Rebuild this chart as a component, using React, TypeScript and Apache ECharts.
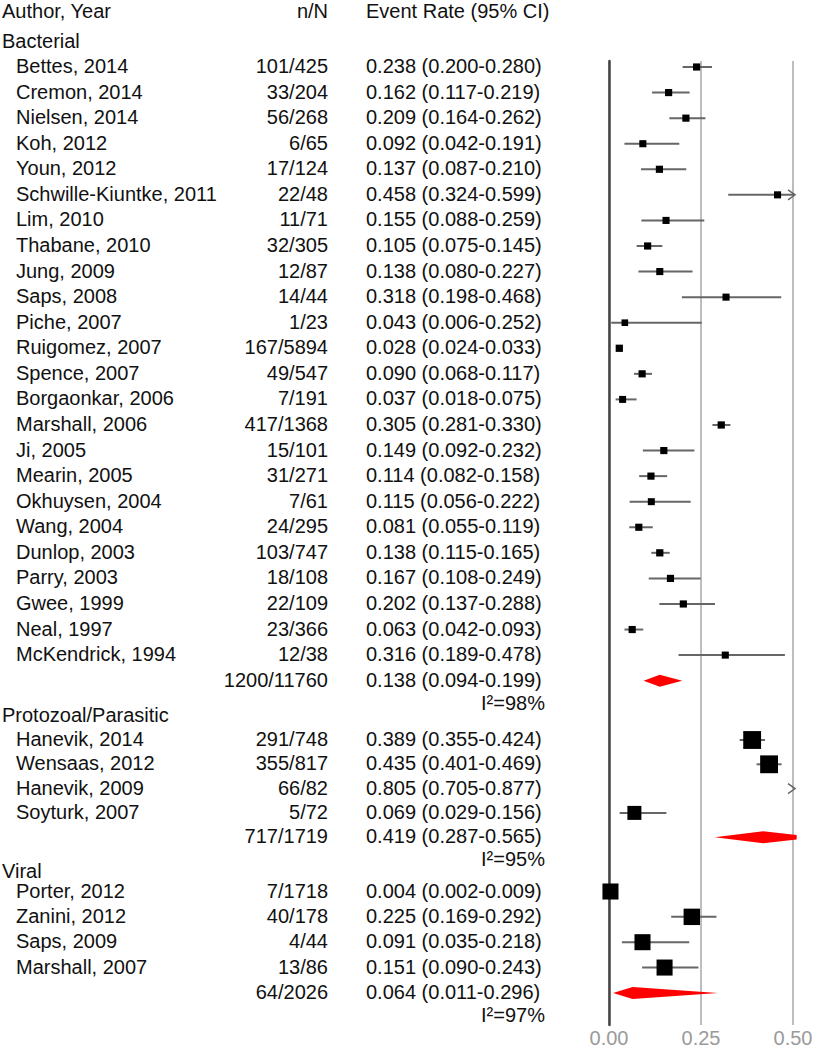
import React, { useEffect, useRef } from "react";
import * as echarts from "echarts";

// ---------- DATA ----------
const groupNames = ["Bacterial", "Protozoal/Parasitic", "Viral"];

const bacterialStudies = [
  "Bettes, 2014", "Cremon, 2014", "Nielsen, 2014", "Koh, 2012", "Youn, 2012",
  "Schwille-Kiuntke, 2011", "Lim, 2010", "Thabane, 2010", "Jung, 2009", "Saps, 2008",
  "Piche, 2007", "Ruigomez, 2007", "Spence, 2007", "Borgaonkar, 2006", "Marshall, 2006",
  "Ji, 2005", "Mearin, 2005", "Okhuysen, 2004", "Wang, 2004", "Dunlop, 2003",
  "Parry, 2003", "Gwee, 1999", "Neal, 1997", "McKendrick, 1994",
];
const bacterialCounts = [
  "101/425", "33/204", "56/268", "6/65", "17/124", "22/48", "11/71", "32/305", "12/87", "14/44",
  "1/23", "167/5894", "49/547", "7/191", "417/1368", "15/101", "31/271", "7/61", "24/295", "103/747",
  "18/108", "22/109", "23/366", "12/38",
];
const bacterialRate = [
  0.238, 0.162, 0.209, 0.092, 0.137, 0.458, 0.155, 0.105, 0.138, 0.318,
  0.043, 0.028, 0.09, 0.037, 0.305, 0.149, 0.114, 0.115, 0.081, 0.138,
  0.167, 0.202, 0.063, 0.316,
];
const bacterialLower = [
  0.2, 0.117, 0.164, 0.042, 0.087, 0.324, 0.088, 0.075, 0.08, 0.198,
  0.006, 0.024, 0.068, 0.018, 0.281, 0.092, 0.082, 0.056, 0.055, 0.115,
  0.108, 0.137, 0.042, 0.189,
];
const bacterialUpper = [
  0.28, 0.219, 0.262, 0.191, 0.21, 0.599, 0.259, 0.145, 0.227, 0.468,
  0.252, 0.033, 0.117, 0.075, 0.33, 0.232, 0.158, 0.222, 0.119, 0.165,
  0.249, 0.288, 0.093, 0.478,
];
const bacterialWeight = [
  4.2, 4.2, 4.2, 4.1, 4.2, 4.1, 4.1, 4.2, 4.1, 4.1,
  3.6, 4.3, 4.2, 4.0, 4.3, 4.2, 4.2, 4.0, 4.2, 4.3,
  4.2, 4.2, 4.2, 4.1,
];

const protozoalStudies = ["Hanevik, 2014", "Wensaas, 2012", "Hanevik, 2009", "Soyturk, 2007"];
const protozoalCounts = ["291/748", "355/817", "66/82", "5/72"];
const protozoalRate = [0.389, 0.435, 0.805, 0.069];
const protozoalLower = [0.355, 0.401, 0.705, 0.029];
const protozoalUpper = [0.424, 0.469, 0.877, 0.156];
const protozoalWeight = [26, 26, 24, 16];

const viralStudies = ["Porter, 2012", "Zanini, 2012", "Saps, 2009", "Marshall, 2007"];
const viralCounts = ["7/1718", "40/178", "4/44", "13/86"];
const viralRate = [0.004, 0.225, 0.091, 0.151];
const viralLower = [0.002, 0.169, 0.035, 0.09];
const viralUpper = [0.009, 0.292, 0.218, 0.243];
const viralWeight = [21, 22, 21, 21];

const summaryCounts = ["1200/11760", "717/1719", "64/2026"];
const summaryRate = [0.138, 0.419, 0.064];
const summaryLower = [0.094, 0.287, 0.011];
const summaryUpper = [0.199, 0.565, 0.296];
const summaryI2 = [98, 95, 97];

const xTicks = [0, 0.25, 0.5];

// ---------- LAYOUT (pixel rows) ----------
const HEADER_Y = 11.5;
const GROUP_LAYOUT = [
  { headerY: 42, firstY: 67, step: 25.57 },
  { headerY: 716, firstY: 740, step: 24.3 },
  { headerY: 872, firstY: 891.5, step: 25.35 },
];
const I2_GAP = 23;
const X_NAME_HDR = 2;
const X_NAME = 16;
const X_COUNT = 328;
const X_RATE = 366;
const X_I2 = 545;
const ARROW_TIP = 0.5055;
const DIAMOND_CLIP = 0.51;
const FONT = "'Liberation Sans', Arial, Helvetica, sans-serif";

type Row = {
  kind: "top" | "group" | "study" | "summary" | "i2";
  y: number;
  label?: string;
  count?: string;
  rate?: number;
  lo?: number;
  hi?: number;
  w?: number;
  i2?: number;
};

function buildRows(): Row[] {
  const groups = [
    [bacterialStudies, bacterialCounts, bacterialRate, bacterialLower, bacterialUpper, bacterialWeight],
    [protozoalStudies, protozoalCounts, protozoalRate, protozoalLower, protozoalUpper, protozoalWeight],
    [viralStudies, viralCounts, viralRate, viralLower, viralUpper, viralWeight],
  ] as any[];
  const rows: Row[] = [{ kind: "top", y: HEADER_Y }];
  groups.forEach((g, gi) => {
    const L = GROUP_LAYOUT[gi];
    rows.push({ kind: "group", y: L.headerY, label: groupNames[gi] });
    const [names, counts, rates, los, his, ws] = g;
    names.forEach((n: string, i: number) => {
      rows.push({
        kind: "study", y: L.firstY + i * L.step, label: n, count: counts[i],
        rate: rates[i], lo: los[i], hi: his[i], w: ws[i],
      });
    });
    const sy = L.firstY + names.length * L.step;
    rows.push({
      kind: "summary", y: sy, count: summaryCounts[gi],
      rate: summaryRate[gi], lo: summaryLower[gi], hi: summaryUpper[gi],
    });
    rows.push({ kind: "i2", y: sy + I2_GAP, i2: summaryI2[gi] });
  });
  return rows;
}

const fmt = (v: number) => v.toFixed(3);

export default function App() {
  const ref = useRef<HTMLDivElement>(null);
  useEffect(() => {
    if (!ref.current) return;
    const chart = echarts.init(ref.current, undefined, { renderer: "svg" });
    const rows = buildRows();

    const txt = (text: string, x: number, y: number, align: string, color = "#111") => ({
      type: "text",
      style: {
        text, x, y, fill: color, fontSize: 20, fontFamily: FONT,
        align, verticalAlign: "middle",
      },
    });

    const renderItem = (params: any, api: any) => {
      const row = rows[params.dataIndex];
      const yPx = api.coord([0, row.y])[1];
      const ty = yPx - 1;
      const X = (v: number) => api.coord([v, row.y])[0];
      const ch: any[] = [];
      if (row.kind === "top") {
        ch.push(txt("Author, Year", X_NAME_HDR, ty, "left"));
        ch.push(txt("n/N", X_COUNT, ty, "right"));
        ch.push(txt("Event Rate (95% CI)", X_RATE, ty, "left"));
      } else if (row.kind === "group") {
        ch.push(txt(row.label!, X_NAME_HDR, ty, "left"));
      } else if (row.kind === "study") {
        ch.push(txt(row.label!, X_NAME, ty, "left"));
        ch.push(txt(row.count!, X_COUNT, ty, "right"));
        ch.push(txt(`${fmt(row.rate!)} (${fmt(row.lo!)}-${fmt(row.hi!)})`, X_RATE, ty, "left"));
        const lo = row.lo!, hi = row.hi!, r = row.rate!;
        if (lo < ARROW_TIP) {
          const x1 = X(lo);
          const x2 = X(Math.min(hi, ARROW_TIP));
          ch.push({ type: "line", shape: { x1, y1: yPx, x2, y2: yPx }, style: { stroke: "#666", lineWidth: 2 } });
        }
        if (hi > ARROW_TIP) {
          const tip = X(ARROW_TIP);
          ch.push({
            type: "polyline",
            shape: { points: [[tip - 7, yPx - 5], [tip, yPx], [tip - 7, yPx + 5]] },
            style: { stroke: "#666", lineWidth: 1.5, fill: null },
          });
        }
        if (r <= ARROW_TIP) {
          const s = 3.5 * Math.sqrt(row.w!);
          const cx = X(r);
          ch.push({ type: "rect", shape: { x: cx - s / 2, y: yPx - s / 2, width: s, height: s }, style: { fill: "#000" } });
        }
      } else if (row.kind === "summary") {
        ch.push(txt(row.count!, X_COUNT, ty, "right"));
        ch.push(txt(`${fmt(row.rate!)} (${fmt(row.lo!)}-${fmt(row.hi!)})`, X_RATE, ty, "left"));
        const h = 6;
        const lo = row.lo!, hi = row.hi!, r = row.rate!;
        const pts: number[][] = [[X(lo), yPx], [X(r), yPx - h]];
        if (hi > DIAMOND_CLIP) {
          const f = (hi - DIAMOND_CLIP) / (hi - r);
          pts.push([X(DIAMOND_CLIP), yPx - h * f]);
          pts.push([X(DIAMOND_CLIP), yPx + h * f]);
        } else {
          pts.push([X(hi), yPx]);
        }
        pts.push([X(r), yPx + h]);
        ch.push({ type: "polygon", shape: { points: pts }, style: { fill: "#ff0000" } });
      } else if (row.kind === "i2") {
        ch.push(txt(`I²=${row.i2}%`, X_I2, ty, "right"));
      }
      return { type: "group", children: ch };
    };

    chart.setOption({
      animation: false,
      grid: { left: 609, right: 20, top: 61, bottom: 25, containLabel: false, outerBoundsMode: "none" },
      xAxis: {
        type: "value",
        min: xTicks[0],
        max: xTicks[xTicks.length - 1],
        interval: 0.25,
        axisLine: { show: false },
        axisTick: { show: false },
        splitLine: { show: true, lineStyle: { color: "#bdbdbd", width: 2 } },
        axisLabel: {
          color: "#9a9a9a", fontSize: 20, fontFamily: FONT, margin: 3,
          formatter: (v: number) => v.toFixed(2),
        },
      },
      yAxis: {
        type: "value",
        inverse: true,
        min: 61,
        max: 1025,
        axisLine: { show: true, lineStyle: { color: "#444", width: 2.5 } },
        axisTick: { show: false },
        axisLabel: { show: false },
        splitLine: { show: false },
      },
      series: [
        {
          type: "custom",
          clip: false,
          renderItem,
          data: rows.map((r, i) => [i, r.y]),
          encode: { x: 0, y: 1 },
          silent: true,
        },
      ],
    });
    return () => chart.dispose();
  }, []);
  return (
    <div
      ref={ref}
      style={{ position: "absolute", left: 0, top: 0, width: 813, height: 1050, background: "#fff" }}
    />
  );
}
